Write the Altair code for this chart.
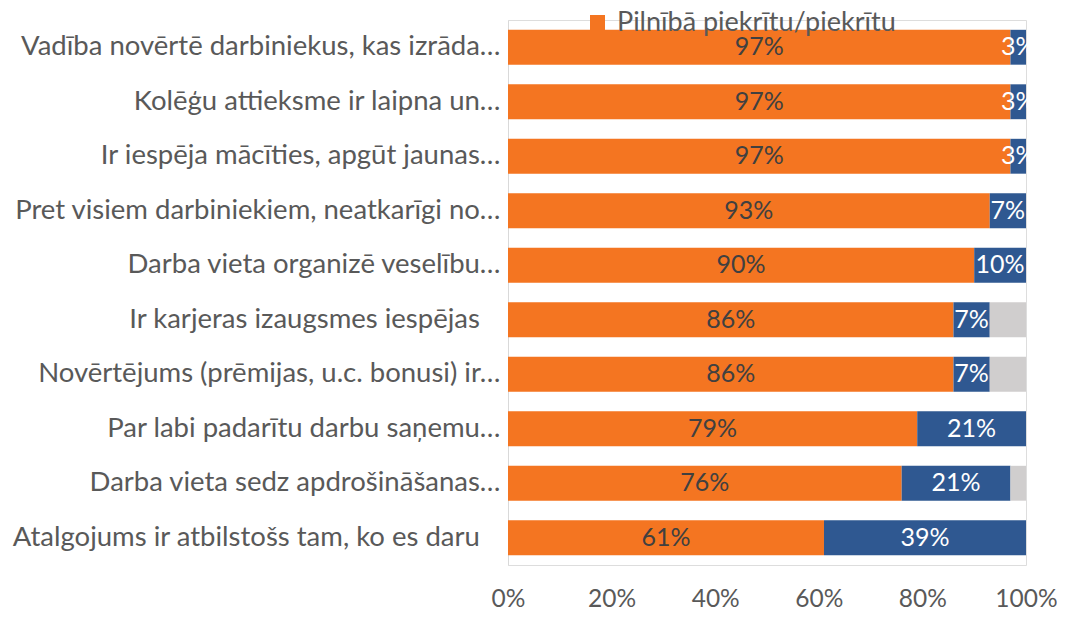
import altair as alt
import pandas as pd

items = [
    "Vadība novērtē darbiniekus, kas izrāda…",
    "Kolēģu attieksme ir laipna un…",
    "Ir iespēja mācīties, apgūt jaunas…",
    "Pret visiem darbiniekiem, neatkarīgi no…",
    "Darba vieta organizē veselību…",
    "Ir karjeras izaugsmes iespējas\u2002\u2005\u200b",
    "Novērtējums (prēmijas, u.c. bonusi) ir…",
    "Par labi padarītu darbu saņemu…",
    "Darba vieta sedz apdrošināšanas…",
    "Atalgojums ir atbilstošs tam, ko es daru\u2002\u2005\u200b",
]
series = ["Pilnībā piekrītu/piekrītu", "Nepiekrītu/pilnībā nepiekrītu", "Grūti pateikt"]
agree = [97, 97, 97, 93, 90, 86, 86, 79, 76, 61]
disagree = [3, 3, 3, 7, 10, 7, 7, 21, 21, 39]
unsure = [0, 0, 0, 0, 0, 7, 7, 0, 3, 0]
colors = ["#F47521", "#2F5891", "#D0CECE"]

rows = []
for i, it in enumerate(items):
    for s, (name, vals) in enumerate(zip(series, [agree, disagree, unsure])):
        rows.append({"item": it, "series": name, "ord": s, "value": vals[i] / 100.0})
df = pd.DataFrame(rows)

font = "Lato"

base = alt.Chart(df).transform_stack(
    stack="value", groupby=["item"], sort=[{"field": "ord", "order": "ascending"}], as_=["x0", "x1"]
).transform_calculate(mid="(datum.x0 + datum.x1) / 2")

y_enc = alt.Y(
    "item:N", sort=items, title=None,
    scale=alt.Scale(paddingInner=0.36, paddingOuter=0.18),
    axis=alt.Axis(labelFont=font, labelFontSize=27.5, labelColor="#595959", labelPadding=8,
                  ticks=False, domainColor="#D9D9D9", labelLimit=600),
)

bars = base.mark_bar().encode(
    x=alt.X("x0:Q", scale=alt.Scale(domain=[0, 1]), title=None,
            axis=alt.Axis(format="%", values=[0, 0.2, 0.4, 0.6, 0.8, 1.0], grid=False, ticks=False,
                          domain=False, labelFont=font, labelFontSize=24.5, labelColor="#595959",
                          labelFlush=False, labelBaseline="alphabetic", labelPadding=41)),
    x2="x1:Q",
    y=y_enc,
    color=alt.Color("series:N", scale=alt.Scale(domain=series, range=colors),
                    legend=alt.Legend(values=[series[0]], title=None, orient="none",
                                      legendX=76, legendY=-11, labelFont=font, labelFontSize=27,
                                      labelColor="#595959", symbolType="square", symbolSize=225,
                                      symbolStrokeWidth=0, labelLimit=400, labelOffset=6)),
    order=alt.Order("ord:Q"),
)

labels = base.transform_filter("datum.ord < 2 && datum.value > 0").mark_text(
    font=font, fontSize=25, baseline="middle", align="center"
).encode(
    x="mid:Q",
    y=alt.Y("item:N", sort=items),
    text=alt.Text("value:Q", format=".0%"),
    color=alt.condition("datum.ord == 0", alt.value("#404040"), alt.value("#FFFFFF")),
)

chart = alt.layer(bars, labels).properties(
    width=518, height=545, autosize=alt.AutoSizeParams(type="none"),
    padding={"left": 500, "top": 12, "right": 31, "bottom": 45},
).configure_view(stroke=None).configure(background="white")

chart.save("out.html", embed_options={"renderer": "svg", "actions": False})
